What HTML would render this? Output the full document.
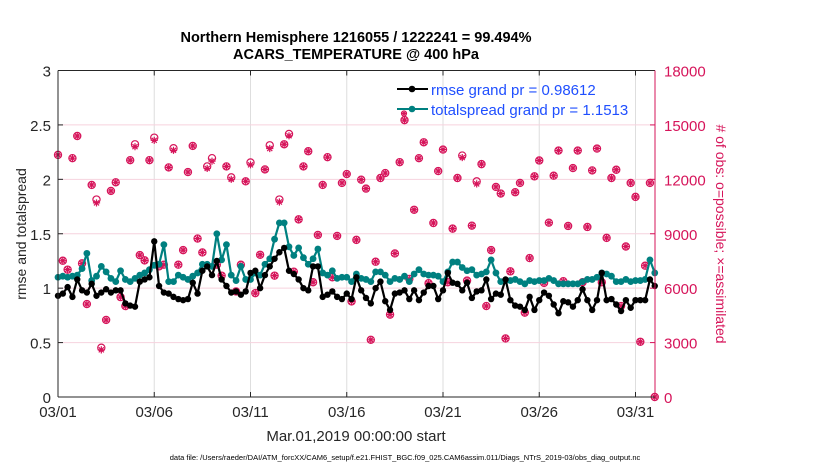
<!DOCTYPE html>
<html><head><meta charset="utf-8"><style>
html,body{margin:0;padding:0;background:#fff;}
svg{display:block;font-family:"Liberation Sans",Arial,sans-serif;}
</style></head><body>
<svg id="chart" width="830" height="470" viewBox="0 0 830 470" xmlns="http://www.w3.org/2000/svg">
<g id="grid"></g>
<g id="series"></g>
<g id="axes"></g>
<text x="356" y="42" text-anchor="middle" font-weight="bold" font-size="14.5">Northern Hemisphere 1216055 / 1222241 = 99.494%</text>
<text x="356" y="59" text-anchor="middle" font-weight="bold" font-size="14.5">ACARS_TEMPERATURE @ 400 hPa</text>
<text transform="translate(26,234) rotate(-90)" text-anchor="middle" font-size="14" fill="#262626">rmse and totalspread</text>
<text transform="translate(716,234) rotate(90)" text-anchor="middle" font-size="14" fill="#d6145a"># of obs: o=possible; ×=assimilated</text>
<text x="356" y="441" text-anchor="middle" font-size="15" fill="#262626">Mar.01,2019 00:00:00 start</text>
<text x="405" y="460" text-anchor="middle" font-size="7.5" fill="#000">data file: /Users/raeder/DAI/ATM_forcXX/CAM6_setup/f.e21.FHIST_BGC.f09_025.CAM6assim.011/Diags_NTrS_2019-03/obs_diag_output.nc</text>
<g id="legend">
  <g>
    <line x1="397" y1="89" x2="428" y2="89" stroke="#000" stroke-width="2"/>
    <circle cx="412" cy="89" r="3.3" fill="#000"/>
    <text x="431" y="95" font-size="15" fill="#1f4fff">rmse grand pr = 0.98612</text>
  </g>
  <g>
    <line x1="397" y1="109" x2="428" y2="109" stroke="#008080" stroke-width="2"/>
    <circle cx="412" cy="109" r="3.3" fill="#008080"/>
    <text x="431" y="115" font-size="15" fill="#1f4fff">totalspread grand pr = 1.1513</text>
  </g>
  <g>
    <circle cx="404" cy="113.5" r="2.6" fill="none" stroke="#d6145a" stroke-width="1"/>
    <path d="M401.4,113.5L406.6,113.5M404,110.9L404,116.1M402.2,111.7L405.8,115.3M405.8,111.7L402.2,115.3" stroke="#d6145a" stroke-width="1"/>
  </g>
</g>
</svg>
<script>
const xTickLabels = ["03/01","03/06","03/11","03/16","03/21","03/26","03/31"];
const xTickDays = [0,5,10,15,20,25,30];
const yTicks = [0,0.5,1,1.5,2,2.5,3];
const yTickLabels = ["0","0.5","1","1.5","2","2.5","3"];
const y2Ticks = [0,3000,6000,9000,12000,15000,18000];
const rmse = [0.93,0.95,1.01,0.92,1.08,0.98,0.96,1.04,0.93,0.96,0.99,
0.96,0.98,0.98,0.86,0.84,0.83,1.06,1.08,1.10,1.43,
1.02,0.96,0.95,0.92,0.90,0.89,0.90,1.05,0.95,1.16,
1.20,1.12,1.25,1.08,1.02,0.96,0.97,0.94,0.97,1.14,
1.16,1.00,1.12,1.20,1.27,1.33,1.37,1.16,1.13,1.08,
1.00,0.98,1.20,1.20,0.92,0.94,0.97,0.92,0.90,0.95,
0.90,1.10,0.98,0.91,0.86,1.00,1.06,0.88,0.80,
0.95,0.96,0.98,0.90,0.98,0.89,0.96,1.02,1.02,0.90,
0.98,1.14,1.05,1.04,0.98,1.05,0.91,0.97,0.98,1.08,
0.90,0.95,0.94,1.08,0.89,0.84,0.83,0.80,0.92,0.80,
0.89,0.96,0.93,0.85,0.77,0.88,0.87,0.83,0.89,0.99,
0.89,0.80,0.89,1.14,0.89,0.90,0.85,0.79,0.89,0.82,
0.89,0.89,0.89,1.08,1.02];
const totalspread = [1.10,1.11,1.10,1.11,1.12,1.18,1.32,1.07,1.11,1.20,1.15,
1.09,1.06,1.16,1.08,1.06,1.09,1.12,1.14,1.17,1.21,
1.22,1.40,1.06,1.06,1.12,1.10,1.08,1.11,1.14,1.22,
1.22,1.20,1.50,1.26,1.40,1.12,1.07,1.20,1.08,1.08,
1.14,1.12,1.22,1.27,1.45,1.60,1.60,1.38,1.30,1.37,
1.28,1.22,1.27,1.36,1.14,1.12,1.16,1.09,1.10,1.10,
1.06,1.13,1.09,1.08,1.06,1.15,1.15,1.12,1.06,
1.09,1.08,1.11,1.06,1.13,1.17,1.13,1.12,1.12,1.11,
1.06,1.15,1.24,1.24,1.19,1.16,1.17,1.12,1.13,1.15,
1.26,1.14,1.06,1.07,1.07,1.08,1.06,1.04,1.07,1.06,
1.07,1.07,1.09,1.07,1.04,1.04,1.04,1.04,1.04,1.06,
1.08,1.08,1.10,1.14,1.13,1.11,1.06,1.06,1.08,1.06,
1.07,1.07,1.08,1.26,1.14];
const obsPossible = [13349,7513,7021,13167,14389,7367,5124,11690,10887,2717,4249,11361,11836,5507,5015,13057,13933,7823,7532,13057,14298,7203,7294,12656,13714,7294,8097,12400,13842,8735,7969,12711,13167,7294,
6690,12711,12109,5817,7294,11890,12930,5726,7841,12547,13878,6690,10887,13933,14499,6909,9793,12711,13550,6326,8936,11690,13221,6599,8881,11800,12292,5270,8662,11982,
11489,3153,7458,12073,12346,4541,7914,12948,15264,6508,10322,13167,14043,6271,9593,12455,13641,6326,9282,12073,13312,6417,9446,11890,12839,5015,8097,11580,11216,3227,
6927,11289,11800,4650,7659,12164,13039,6289,9611,12200,13586,6381,9428,12620,13586,6326,9373,12491,13696,6326,8772,12073,12528,5015,8297,11800,11033,3045,7239,11800,0];
const obsAssim = [13349,7513,7021,13167,14389,7367,5124,11690,10700,2600,4249,11361,11836,5507,5015,13057,13800,7823,7532,13057,14150,7203,7294,12656,13600,7294,8097,12400,13842,8735,7969,12600,13000,7294,
6690,12711,12000,5817,7294,11890,12800,5726,7841,12547,13700,6690,10750,13933,14400,6909,9793,12711,13550,6326,8936,11690,13221,6599,8881,11800,12292,5270,8662,11982,
11489,3153,7458,12073,12346,4541,7914,12948,15264,6508,10322,13167,14043,6271,9593,12455,13641,6326,9282,12073,13200,6417,9446,11750,12839,5015,8097,11580,11216,3227,
6927,11289,11800,4650,7659,12164,13039,6289,9611,12200,13586,6381,9428,12620,13586,6326,9373,12491,13696,6326,8772,12073,12528,5015,8297,11800,11033,3045,7239,11800,0];

const NS="http://www.w3.org/2000/svg";
const X0=58, X1=655, Y0=397, Y1=70.5, DAY=19.25, STEP=0.25;
const xs = t => X0 + t*DAY;
const ys = v => Y0 - v/3*(Y0-Y1);
const ys2 = v => Y0 - v/18000*(Y0-Y1);
const PINK="#d6145a";
function mk(tag, parent, attrs){const e=document.createElementNS(NS,tag);for(const k in attrs)e.setAttribute(k,attrs[k]);parent.appendChild(e);return e;}
const grid=document.getElementById('grid'), ser=document.getElementById('series'), axes=document.getElementById('axes');

xTickDays.forEach((d,i)=>{
  const x=xs(d);
  if(i>0){const gl=mk('line',grid,{x1:x,y1:Y1,x2:x,y2:Y0,stroke:'#dedede','stroke-width':1});
  
  }
  const tk=mk('line',axes,{x1:x,y1:Y0,x2:x,y2:Y0-5,stroke:'#262626'});
  
  
  const tk2=mk('line',axes,{x1:x,y1:Y1,x2:x,y2:Y1+5,stroke:'#262626'});
  
  
  const lb=mk('text',axes,{x:x,y:Y0+20,'text-anchor':'middle','font-size':15,fill:'#262626'});
  lb.textContent=xTickLabels[i];
  
  
});
y2Ticks.forEach((v,i)=>{
  const y=ys2(v);
  if(i>0&&i<y2Ticks.length-1){const gl=mk('line',grid,{x1:X0,y1:y,x2:X1,y2:y,stroke:'#f6d2de','stroke-width':1});
  
  }
  const tk=mk('line',axes,{x1:X1,y1:y,x2:X1-5,y2:y,stroke:PINK});
  
  
  const lb=mk('text',axes,{x:X1+9,y:y+6,'font-size':15,fill:PINK});
  lb.textContent=String(v);
  
  
});
yTicks.forEach((v,i)=>{
  const y=ys(v);
  const tk=mk('line',axes,{x1:X0,y1:y,x2:X0+5,y2:y,stroke:'#262626'});
  
  
  const lb=mk('text',axes,{x:X0-7,y:y+6,'text-anchor':'end','font-size':15,fill:'#262626'});
  lb.textContent=yTickLabels[i];
  
  
});
const ax1=mk('line',axes,{x1:X0,y1:Y1,x2:X1,y2:Y1,stroke:'#262626'});


const ax2=mk('line',axes,{x1:X0,y1:Y0,x2:X1,y2:Y0,stroke:'#262626'});


const ax3=mk('line',axes,{x1:X0,y1:Y1,x2:X0,y2:Y0,stroke:'#262626'});


const ax4=mk('line',axes,{x1:X1,y1:Y1,x2:X1,y2:Y0,stroke:PINK});



obsPossible.forEach((v,j)=>{
  const c=mk('circle',ser,{cx:xs(j*STEP),cy:ys2(v),r:3.6,fill:'none',stroke:PINK,'stroke-width':1.2});
  
  
});
obsAssim.forEach((v,j)=>{
  const x=xs(j*STEP), y=ys2(v), r=3.6;
  let d='';
  for(let a=0;a<4;a++){const an=a*Math.PI/4;d+=`M${x-r*Math.cos(an)},${y-r*Math.sin(an)}L${x+r*Math.cos(an)},${y+r*Math.sin(an)}`;}
  const p=mk('path',ser,{d:d,stroke:PINK,'stroke-width':1.2,fill:'none'});
  
  
});
function drawLine(vals,color,name,star){
  const pts=vals.map((v,k)=>[xs(k*STEP),ys(v)]);
  const pl=mk('polyline',ser,{points:pts.map(p=>p.join(',')).join(' '),fill:'none',stroke:color,'stroke-width':2.2,'stroke-linejoin':'round'});
  
  
  pts.forEach(p=>{
    const c=mk('circle',ser,{cx:p[0],cy:p[1],r:star?3.2:3.4,fill:color});
    
    
  });
}
drawLine(totalspread,'#008080','totalspread',false);
drawLine(rmse,'#000000','rmse',true);
</script>
</body></html>
